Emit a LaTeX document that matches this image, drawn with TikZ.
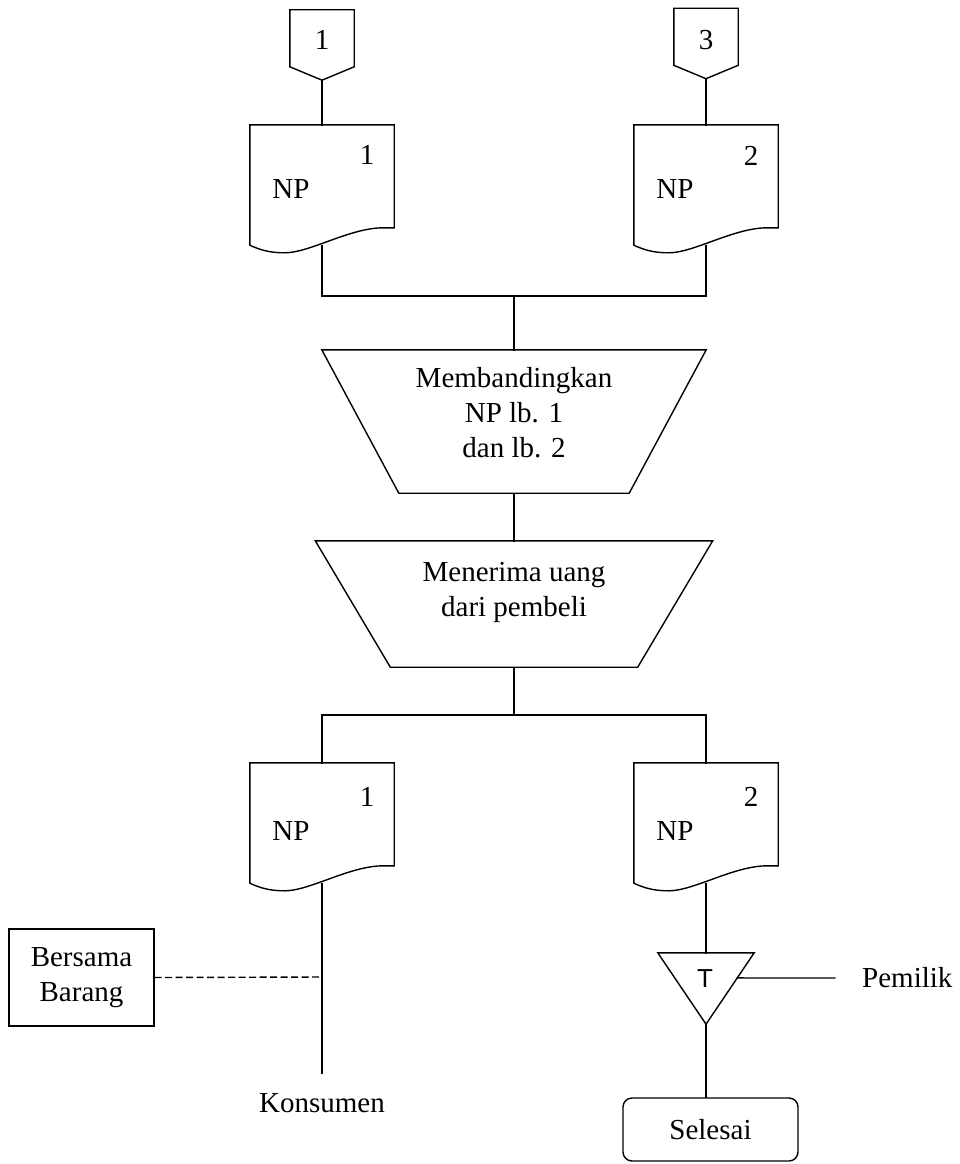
\documentclass[tikz,border=0pt]{standalone}
\usepackage{fontspec}
\setmainfont{Liberation Serif}
\newfontfamily\tsans{Liberation Sans}
\usetikzlibrary{calc}

\tikzset{
  line/.style={line width=1.4pt, line cap=rect},
  txt/.style={font=\fontsize{29}{35}\selectfont, inner sep=0pt, align=center},
  docbox/.style={minimum width=144pt, minimum height=120pt, inner sep=0pt},
  offbox/.style={minimum width=64pt, minimum height=70pt, inner sep=0pt},
  trapbox/.style={inner sep=0pt},
  plainbox/.style={draw, line width=1.4pt, inner sep=0pt},
}

% document symbol drawn around an (invisible) node
\newcommand{\docoutline}[1]{%
  \draw[line, line cap=butt, line join=miter]
    (#1.south west) -- (#1.north west) -- (#1.north east)
    -- ($(#1.north east)+(0,103)$) -- ($(#1.north east)+(-11,103)$)
    .. controls ($(#1.north west)+(100,103)$) and ($(#1.north west)+(60,128)$) .. ($(#1.north west)+(35,128)$)
    .. controls ($(#1.north west)+(22,128)$) and ($(#1.north west)+(12,126)$) .. (#1.south west) -- cycle;}

% off-page connector
\newcommand{\offoutline}[1]{%
  \draw[line, line cap=butt, line join=miter]
    (#1.north west) -- (#1.north east) -- ($(#1.north east)+(0,57)$)
    -- (#1.south) -- ($(#1.north west)+(0,57)$) -- cycle;}

% manual operation (inverted trapezoid), #2 = inset of the lower edge
\newcommand{\trapoutline}[2]{%
  \draw[line, line cap=butt, line join=miter]
    (#1.north west) -- (#1.north east) -- ($(#1.south east)+(-#2,0)$)
    -- ($(#1.south west)+(#2,0)$) -- cycle;}

\begin{document}
\begin{tikzpicture}[x=1pt, y=-1pt]
\useasboundingbox (0,0) rectangle (959,1164);

% off-page connectors
\node[offbox] (c1) at (322,45) {};
\offoutline{c1}
\node[txt] (c1t) at (322,40) {1};
\node[offbox] (c3) at (706,43.5) {};
\offoutline{c3}
\node[txt] (c3t) at (706,40) {3};

% upper documents
\node[docbox] (d1) at (322,185) {};
\docoutline{d1}
\node[txt] (d1n) at (367,155) {1};
\node[txt] (d1p) at (291,189) {NP};
\node[docbox] (d2) at (706,185) {};
\docoutline{d2}
\node[txt] (d2n) at (751,156) {2};
\node[txt] (d2p) at (675,189) {NP};

% comparison step
\node[trapbox, minimum width=384pt, minimum height=143pt] (p1) at (514,421.5) {};
\trapoutline{p1}{77}
\node[txt] (p1t) at (514,413) {Membandingkan\\NP lb. 1\\dan lb. 2};

% payment step
\node[trapbox, minimum width=397pt, minimum height=126pt] (p2) at (514,604) {};
\trapoutline{p2}{75}
\node[txt] (p2t) at (514,592) {Menerima uang\\dari pembeli};

% lower documents
\node[docbox] (d3) at (322,823) {};
\docoutline{d3}
\node[txt] (d3n) at (367,797) {1};
\node[txt] (d3p) at (291,831) {NP};
\node[docbox] (d4) at (706,823) {};
\docoutline{d4}
\node[txt] (d4n) at (751,797) {2};
\node[txt] (d4p) at (675,831) {NP};

% file (triangle)
\node[inner sep=0pt, minimum width=96pt, minimum height=71pt] (tri) at (706,988.5) {};
\draw[line, line cap=butt, line join=miter] (tri.north west) -- (tri.north east) -- (tri.south) -- cycle;
\node[font=\tsans\fontsize{26}{30}\selectfont, inner sep=0pt] (trit) at (705,979) {T};

% side boxes and labels
\node[plainbox, txt, minimum width=145pt, minimum height=97pt] (bb) at (81.5,977.5) {Bersama\\Barang};
\node[txt] (kons) at (322,1103) {Konsumen};
\node[txt, anchor=west] (pem) at (862,978) {Pemilik};
\node[plainbox, rounded corners=9pt, minimum width=175pt, minimum height=63pt, txt] (sel) at (710.5,1129.5) {Selesai};

% junctions and free ends
\coordinate (j1) at (514,296);
\coordinate (j2) at (514,715);
\coordinate (kend) at (322,1073);
\coordinate (dj) at (322,977);
\coordinate (trr) at ($(tri.north east)!0.352!(tri.south)$);
\coordinate (pend) at (835,978);

% connectors
\draw[line] (c1.south) -- (d1.north);
\draw[line] (c3.south) -- (d2.north);
\draw[line] (d1.south) |- (j1) -| (d2.south);
\draw[line] (j1) -- (p1.north);
\draw[line] (p1.south) -- (p2.north);
\draw[line] (p2.south) -- (j2);
\draw[line] (d3.north) |- (j2) -| (d4.north);
\draw[line] (d3.south) -- (kend);
\draw[line, line cap=butt, dash pattern=on 7pt off 3.5pt] (bb.east) -- (dj);
\draw[line] (d4.south) -- (tri.north);
\draw[line] (trr) -- (pend);
\draw[line] (tri.south) -- (tri.south |- sel.north);
\end{tikzpicture}
\end{document}
